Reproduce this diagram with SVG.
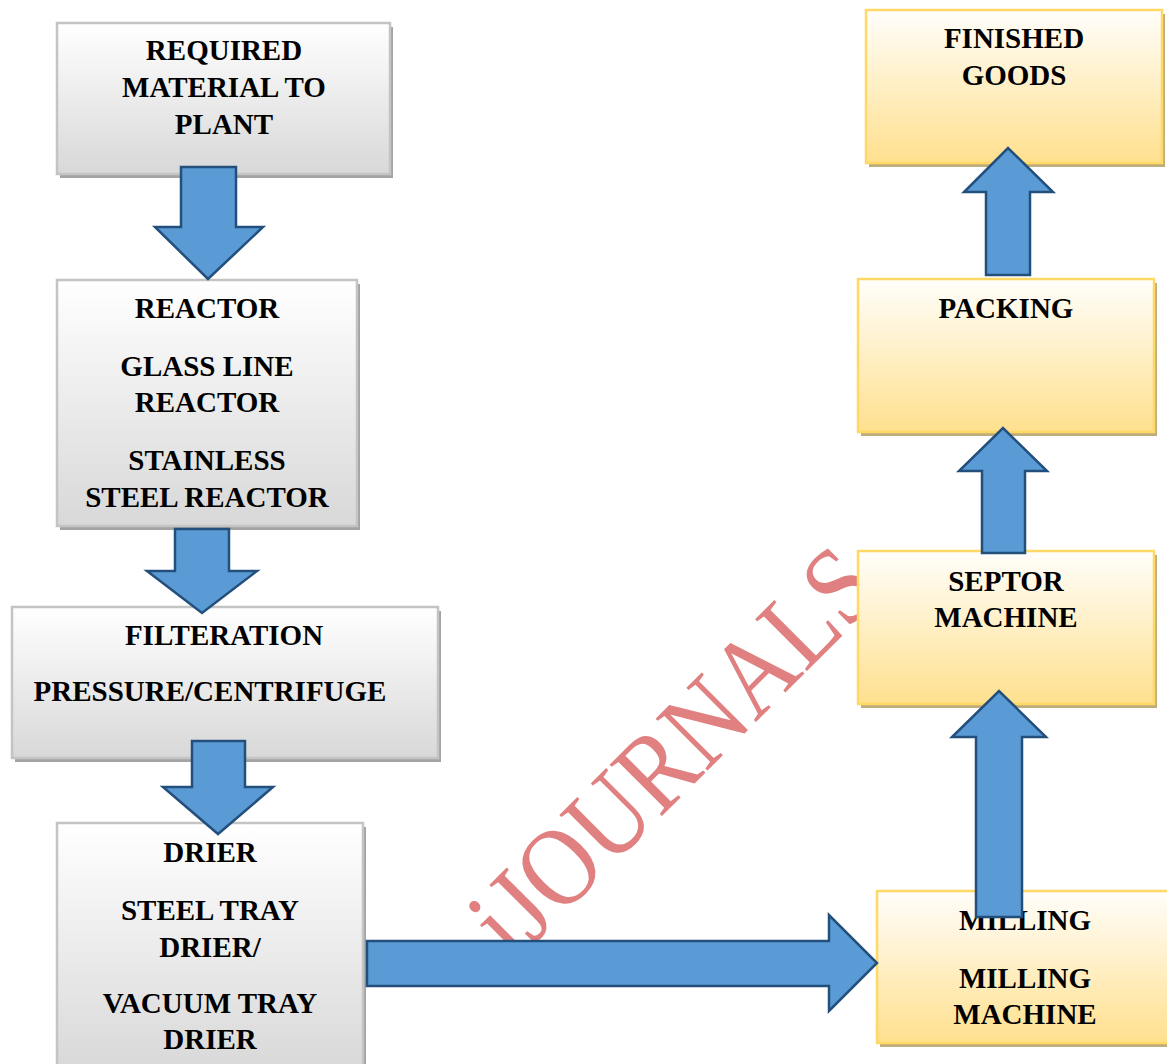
<svg xmlns="http://www.w3.org/2000/svg" width="1167" height="1064" viewBox="0 0 1167 1064">
  <defs>
    <linearGradient id="gGray" x1="0" y1="0" x2="0" y2="1">
      <stop offset="0" stop-color="#FFFFFF"/>
      <stop offset="1" stop-color="#D8D8D8"/>
    </linearGradient>
    <linearGradient id="gYel" x1="0" y1="0" x2="0" y2="1">
      <stop offset="0" stop-color="#FFFEFB"/>
      <stop offset="1" stop-color="#FFE08E"/>
    </linearGradient>
  </defs>
  <style>
    .gbox { fill: url(#gGray); stroke: #C4C4C4; stroke-width: 2.5; }
    .gsh { fill: #A3A3A3; }
    .ybox { fill: url(#gYel); stroke: #FFD866; stroke-width: 2.5; }
    .ysh { fill: #BDAE7C; }
    .lbl { font-family: "Liberation Serif", "Times New Roman", serif; font-weight: bold; font-size: 29px; fill: #000; text-anchor: middle; }
    .arr { fill: #5B9BD5; stroke: #234F7D; stroke-width: 2.5; stroke-linejoin: miter; }
    .wm { font-family: "Liberation Serif", "Times New Roman", serif; font-size: 112px; fill: #E08080; }
  </style>
  <rect width="1167" height="1064" fill="#FFFFFF"/>

  <text class="wm" x="0" y="0" transform="translate(514 964) rotate(-45) scale(0.87 1)">iJOURNALS</text>

  <g id="node-required">
    <rect class="gsh" x="60" y="27" width="333" height="151"/>
    <rect class="gbox" x="57" y="23" width="333" height="151"/>
    <text class="lbl" x="224" y="60">REQUIRED</text>
    <text class="lbl" x="224" y="97">MATERIAL TO</text>
    <text class="lbl" x="224" y="134">PLANT</text>
  </g>
  <g id="node-reactor">
    <rect class="gsh" x="60" y="284" width="300" height="246"/>
    <rect class="gbox" x="57" y="280" width="300" height="246"/>
    <text class="lbl" x="207" y="318">REACTOR</text>
    <text class="lbl" x="207" y="376">GLASS LINE</text>
    <text class="lbl" x="207" y="412">REACTOR</text>
    <text class="lbl" x="207" y="470">STAINLESS</text>
    <text class="lbl" x="207" y="507">STEEL REACTOR</text>
  </g>
  <g id="node-filteration">
    <rect class="gsh" x="15" y="611" width="426" height="151"/>
    <rect class="gbox" x="12" y="607" width="426" height="151"/>
    <text class="lbl" x="224" y="645">FILTERATION</text>
    <text class="lbl" x="210" y="701">PRESSURE/CENTRIFUGE</text>
  </g>
  <g id="node-drier">
    <rect class="gsh" x="60" y="827" width="306" height="250"/>
    <rect class="gbox" x="57" y="823" width="306" height="250"/>
    <text class="lbl" x="210" y="862">DRIER</text>
    <text class="lbl" x="210" y="920">STEEL TRAY</text>
    <text class="lbl" x="210" y="957">DRIER/</text>
    <text class="lbl" x="210" y="1013">VACUUM TRAY</text>
    <text class="lbl" x="210" y="1049">DRIER</text>
  </g>
  <g id="node-finished">
    <rect class="ysh" x="869" y="14" width="296" height="153"/>
    <rect class="ybox" x="866" y="10" width="296" height="153"/>
    <text class="lbl" x="1014" y="48">FINISHED</text>
    <text class="lbl" x="1014" y="85">GOODS</text>
  </g>
  <g id="node-packing">
    <rect class="ysh" x="861" y="283" width="296" height="153"/>
    <rect class="ybox" x="858" y="279" width="296" height="153"/>
    <text class="lbl" x="1006" y="318">PACKING</text>
  </g>
  <g id="node-septor">
    <rect class="ysh" x="861" y="555" width="296" height="153"/>
    <rect class="ybox" x="858" y="551" width="296" height="153"/>
    <text class="lbl" x="1006" y="591">SEPTOR</text>
    <text class="lbl" x="1006" y="627">MACHINE</text>
  </g>
  <g id="node-milling">
    <rect class="ysh" x="880" y="895" width="295" height="152"/>
    <rect class="ybox" x="877" y="891" width="295" height="152"/>
    <text class="lbl" x="1025" y="930">MILLING</text>
    <text class="lbl" x="1025" y="988">MILLING</text>
    <text class="lbl" x="1025" y="1024">MACHINE</text>
  </g>

  <g id="connectors">
    <path class="arr" d="M181,167 H236 V227 H263 L208,279 L155,227 H181 Z"/>
    <path class="arr" d="M175,529 H229 V571 H257 L202,613 L147,571 H175 Z"/>
    <path class="arr" d="M192,741 H245 V787 H273 L218,834 L163,787 H192 Z"/>
    <path class="arr" d="M367,941 H829 V915 L877,963 L829,1011 V986 H367 Z"/>
    <path class="arr" d="M976,917 V737 H952 L999,691 L1046,737 H1022 V917 Z"/>
    <path class="arr" d="M982,553 V471 H959 L1003,428 L1047,471 H1025 V553 Z"/>
    <path class="arr" d="M986,275 V192 H964 L1008,148 L1053,192 H1030 V275 Z"/>
  </g>
</svg>
